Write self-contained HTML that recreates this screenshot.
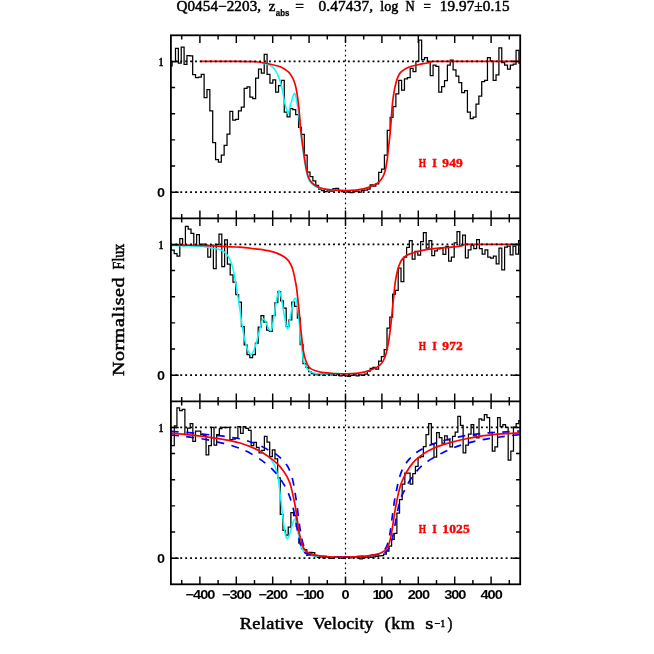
<!DOCTYPE html>
<html><head><meta charset="utf-8"><title>Q0454-2203</title>
<style>html,body{margin:0;padding:0;background:#fff}svg{display:block;will-change:transform}</style></head>
<body>
<svg width="654" height="654" viewBox="0 0 654 654">
<rect width="654" height="654" fill="#fff"/>
<g stroke="#000" stroke-width="1.25" fill="none" stroke-linejoin="miter">
<path d="M171.00 65.80V65.80H172.10V61.60H175.50V48.30H178.36V63.00H181.22V47.10H184.09V64.30H186.95V55.70H189.81V55.90H192.67V74.60H195.53V77.70H198.40V77.10H201.26V74.30H204.12V97.60H206.98V89.60H209.84V110.80H212.71V142.60H215.57V159.50H218.43V162.20H221.29V155.20H224.15V145.30H227.02V134.00H229.88V111.40H232.74V120.00H235.60V119.40H238.46V110.80H241.33V107.10H244.19V88.30H247.05V86.90H249.91V97.20H252.77V98.70H255.64V78.20H258.50V69.10H261.36V73.00H264.22V54.40H267.08V74.25H269.95V83.10H272.81V79.75H275.67V92.00H278.53V85.50H281.39V80.40H284.26V112.20H287.12V116.80H289.98V108.50H292.84V109.70H295.70V114.60H298.57V127.30H301.43V134.40H304.29V155.10H307.15V172.00H310.01V176.50H312.88V180.80H315.74V185.40H318.60V189.10H321.46V190.50H324.32V191.50H327.19V190.00H330.05V191.00H332.91V188.50H335.77V188.30H338.63V190.50H341.50V191.50H344.36V192.00H347.22V191.00H350.08V192.50H352.94V191.50H355.81V191.00H358.67V192.00H361.53V190.50H364.39V190.00H367.25V189.00H370.12V184.80H372.98V186.00H375.84V183.90H378.70V172.40H381.56V169.20H384.43V155.10H387.29V130.40H390.15V117.30H393.01V106.70H395.87V93.80H398.74V80.40H401.60V90.20H404.46V78.90H407.32V77.70H410.18V68.40H413.05V71.60H415.91V61.40H418.77V40.00H421.63V59.60H424.49V57.50H427.36V61.40H430.22V75.50H433.08V65.10H435.94V66.30H438.80V92.00H441.67V86.50H444.53V80.60H447.39V65.00H450.25V60.10H453.11V69.90H455.98V76.00H458.84V82.70H461.70V92.50H464.56V90.70H467.42V112.10H470.29V118.60H473.15V117.00H476.01V104.10H478.87V96.20H481.73V81.50H484.60V80.30H487.46V57.60H490.32V61.20H493.18V80.30H496.04V74.80H498.91V47.80H501.77V62.50H504.63V65.00H507.49V69.00H510.35V65.00H513.22V64.10H516.08V50.30H518.94V63.10H520.20"/>
<path d="M171.00 244.40V250.00V250.00H174.20V253.50H177.00V256.00H179.80V238.50H182.60V245.60H185.40V226.30H188.20V229.10H191.00V233.30H193.80V245.00H196.60V234.60H199.40V245.00H202.20V244.10H205.00V245.00H207.80V257.20H210.60V245.00H213.40V268.50H216.20V244.40H219.00V234.00H221.80V266.60H224.60V239.80H227.40V264.20H230.20V274.90H233.00V282.00H235.80V294.70H238.60V302.00H241.40V326.50H244.20V344.80H247.00V354.60H249.80V357.70H252.60V354.60H255.40V343.00H258.20V327.10H261.00V315.50H263.80V322.20H266.60V330.20H269.40V331.40H272.20V315.50H275.00V302.60H277.80V291.60H280.60V300.80H283.40V308.10H286.20V326.50H289.00V319.80H291.80V302.00H294.60V306.30H297.40V318.00H300.20V344.50H303.00V363.70H305.80V367.40H308.60V371.70H311.40V373.50H314.20V373.90H317.00V374.90H319.80V374.20H322.60V375.40H325.40V374.40H328.20V373.90H331.00V374.90H333.80V375.40H336.60V374.40H339.40V375.90H342.20V374.90H345.00V375.90H347.80V376.40H350.60V375.40H353.40V374.90H356.20V375.90H359.00V374.90H361.80V375.40H364.60V374.10H367.40V371.00H370.20V368.40H373.00V367.40H375.80V369.20H378.60V361.00H381.40V356.60H384.20V349.60H387.00V328.20H389.80V317.20H392.60V294.10H395.40V290.40H398.20V268.10H401.00V281.50H403.80V257.00H406.60V247.30H409.40V240.50H412.20V259.00H415.00V251.30H417.80V255.00H420.60V241.50H423.40V232.60H426.20V248.20H429.00V240.50H431.80V255.60H434.60V250.90H437.40V248.90H440.20V248.20H443.00V254.40H445.80V246.40H448.60V261.00H451.40V257.10H454.20V242.90H457.00V231.50H459.80V245.60H462.60V235.20H465.40V257.80H468.20V249.90H471.00V245.00H473.80V248.60H476.60V239.50H479.40V248.60H482.20V254.10H485.00V249.90H487.80V257.20H490.60V258.00H493.40V256.00H496.20V263.90H499.00V248.00H501.80V269.80H504.60V247.00H507.40V246.20H510.20V254.80H513.00V246.20H515.80V254.10H518.60V240.70H520.20"/>
<path d="M171.00 426.00V445.70V445.70H174.28V425.90H176.93V407.80H179.58V410.60H182.23V409.25H184.88V434.70H187.53V428.00H190.18V423.70H192.83V441.40H195.48V431.00H198.13V431.00H200.78V434.70H203.43V435.30H206.08V454.90H208.73V445.70H211.38V427.40H214.03V445.10H216.68V434.70H219.33V428.60H221.98V427.40H224.63V427.70H227.28V427.40H229.93V439.60H232.58V439.00H235.23V438.00H237.88V426.60H240.53V433.30H243.18V426.50H245.83V428.40H248.48V430.30H251.13V445.50H253.78V442.40H256.43V447.30H259.08V452.80H261.73V450.40H264.38V436.30H267.03V442.00H269.68V456.50H272.33V449.80H274.98V458.90H277.63V477.90H280.28V514.40H282.93V530.30H285.58V535.20H288.23V527.20H290.88V512.50H293.53V515.60H296.18V526.60H298.83V543.10H301.48V548.60H304.13V549.60H306.78V555.30H309.43V552.30H312.08V552.50H314.73V556.30H317.38V557.30H320.03V556.80H322.68V557.80H325.33V556.80H327.98V557.30H330.63V558.30H333.28V557.30H335.93V556.80H338.58V557.80H341.23V558.30H343.88V557.30H346.53V556.80H349.18V557.80H351.83V557.30H354.48V556.80H357.13V557.80H359.78V558.80H362.43V557.80H365.08V557.30H367.73V556.80H370.38V557.30H373.03V556.80H375.68V556.30H378.33V555.80H380.98V555.70H383.63V554.10H386.28V551.00H388.93V546.20H391.58V539.40H394.23V533.30H396.88V513.10H399.53V499.70H402.18V484.00H404.83V473.00H407.48V473.00H410.13V484.00H412.78V473.60H415.43V466.30H418.08V457.70H420.73V456.50H423.38V446.70H426.03V434.50H428.68V423.50H431.33V443.60H433.98V457.10H436.63V432.60H439.28V437.50H441.93V443.00H444.58V435.90H447.23V439.80H449.88V446.80H452.53V436.40H455.18V432.10H457.83V416.40H460.48V425.40H463.13V452.90H465.78V445.10H468.43V434.10H471.08V424.70H473.73V435.90H476.38V437.80H479.03V418.80H481.68V420.00H484.33V414.50H486.98V417.60H489.63V432.25H492.28V451.20H494.93V446.90H497.58V417.60H500.23V426.70H502.88V424.70H505.53V427.40H508.18V460.10H510.83V451.20H513.48V427.10H516.13V423.70H518.78V420.60H520.20"/>
</g>
<g stroke="#00ffff" stroke-width="1.5" fill="none" stroke-linejoin="round">
<path d="M262.00 62.90C262.83 63.12 265.37 63.63 267.00 64.20C268.63 64.77 270.38 65.23 271.80 66.30C273.22 67.37 274.28 68.67 275.50 70.60C276.72 72.53 277.98 74.85 279.10 77.90C280.22 80.95 281.28 84.82 282.20 88.90C283.12 92.98 283.78 98.73 284.60 102.40C285.42 106.07 286.48 109.07 287.10 110.90C287.72 112.73 287.78 114.22 288.30 113.40C288.82 112.58 289.48 108.65 290.20 106.00C290.92 103.35 291.90 99.63 292.60 97.50C293.30 95.37 293.88 93.40 294.40 93.20C294.92 93.00 295.18 94.17 295.70 96.30C296.22 98.43 296.93 102.55 297.50 106.00C298.07 109.45 298.63 113.03 299.10 117.00C299.57 120.97 299.80 125.22 300.30 129.80C300.80 134.38 301.48 139.82 302.10 144.50C302.72 149.18 303.38 153.83 304.00 157.90C304.62 161.97 305.20 165.75 305.80 168.90C306.40 172.05 306.88 174.63 307.60 176.80C308.32 178.97 309.07 180.45 310.10 181.90C311.13 183.35 312.30 184.48 313.80 185.50C315.30 186.52 316.98 187.32 319.10 188.00C321.22 188.68 323.85 189.23 326.50 189.60C329.15 189.97 333.58 190.10 335.00 190.20"/>
<path d="M171.00 245.50C174.17 245.57 185.17 245.77 190.00 245.90C194.83 246.03 197.33 246.12 200.00 246.30C202.67 246.48 203.87 246.68 206.00 247.00C208.13 247.32 210.65 247.82 212.80 248.20C214.95 248.58 217.07 248.72 218.90 249.30C220.73 249.88 222.37 250.68 223.80 251.70C225.23 252.72 226.27 253.57 227.50 255.40C228.73 257.23 230.18 260.05 231.20 262.70C232.22 265.35 232.83 267.92 233.60 271.30C234.37 274.68 235.15 279.22 235.80 283.00C236.45 286.78 236.85 289.82 237.50 294.00C238.15 298.18 238.93 302.88 239.70 308.10C240.47 313.32 241.28 320.20 242.10 325.30C242.92 330.40 243.78 334.83 244.60 338.70C245.42 342.57 246.18 346.05 247.00 348.50C247.82 350.95 248.85 352.38 249.50 353.40C250.15 354.42 250.40 354.60 250.90 354.60C251.40 354.60 251.82 354.62 252.50 353.40C253.18 352.18 254.18 349.75 255.00 347.30C255.82 344.85 256.58 341.77 257.40 338.70C258.22 335.63 259.18 331.75 259.90 328.90C260.62 326.05 261.10 323.23 261.70 321.60C262.30 319.97 262.88 319.20 263.50 319.10C264.12 319.00 264.78 319.87 265.40 321.00C266.02 322.13 266.60 324.48 267.20 325.90C267.80 327.32 268.38 328.68 269.00 329.50C269.62 330.32 270.38 331.10 270.90 330.80C271.42 330.50 271.60 330.05 272.10 327.70C272.60 325.35 273.28 320.57 273.90 316.70C274.52 312.83 275.18 308.17 275.80 304.50C276.42 300.83 277.05 297.05 277.60 294.70C278.15 292.35 278.58 290.40 279.10 290.40C279.62 290.40 280.13 292.35 280.70 294.70C281.27 297.05 281.90 301.03 282.50 304.50C283.10 307.97 283.68 312.03 284.30 315.50C284.92 318.97 285.68 323.07 286.20 325.30C286.72 327.53 287.00 328.70 287.40 328.90C287.80 329.10 288.10 328.53 288.60 326.50C289.10 324.47 289.78 320.17 290.40 316.70C291.02 313.23 291.75 308.45 292.30 305.70C292.85 302.95 293.20 301.43 293.70 300.20C294.20 298.97 294.82 298.20 295.30 298.30C295.78 298.40 296.18 298.95 296.60 300.80C297.02 302.65 297.30 305.12 297.80 309.40C298.30 313.68 299.02 320.80 299.60 326.50C300.18 332.20 300.75 338.45 301.30 343.60C301.85 348.75 302.35 354.05 302.90 357.40C303.45 360.75 303.72 361.63 304.60 363.70C305.48 365.77 306.78 368.27 308.20 369.80C309.62 371.33 310.85 372.18 313.10 372.90C315.35 373.62 317.22 374.02 321.70 374.10C326.18 374.18 336.95 373.52 340.00 373.40"/>
<path d="M247.20 445.50C249.25 446.42 256.43 449.48 259.50 451.00C262.57 452.52 263.77 453.28 265.60 454.60C267.43 455.92 269.08 457.27 270.50 458.90C271.92 460.53 273.08 462.35 274.10 464.40C275.12 466.45 275.88 468.65 276.60 471.20C277.32 473.75 277.95 477.07 278.40 479.70C278.85 482.33 279.05 484.95 279.30 487.00C279.55 489.05 279.57 489.28 279.90 492.00C280.23 494.72 280.77 498.75 281.30 503.30C281.83 507.85 282.48 514.40 283.10 519.30C283.72 524.20 284.42 529.55 285.00 532.70C285.58 535.85 286.00 537.48 286.60 538.20C287.20 538.92 287.85 538.53 288.60 537.00C289.35 535.47 290.28 531.65 291.10 529.00C291.92 526.35 292.88 522.72 293.50 521.10C294.12 519.48 294.38 519.20 294.80 519.30C295.22 519.40 295.50 519.67 296.00 521.70C296.50 523.73 297.20 528.23 297.80 531.50C298.40 534.77 298.88 538.45 299.60 541.30C300.32 544.15 301.17 546.67 302.10 548.60C303.03 550.53 303.88 551.78 305.20 552.90C306.52 554.02 307.77 554.75 310.00 555.30C312.23 555.85 315.60 555.98 318.60 556.20C321.60 556.42 326.43 556.53 328.00 556.60"/>
</g>
<g stroke="#0000ff" stroke-width="1.7" fill="none" stroke-dasharray="7.5 7.4">
<path d="M171.00 431.30C174.92 431.60 188.55 432.57 194.50 433.10C200.45 433.63 202.63 434.07 206.70 434.50C210.77 434.93 214.82 435.22 218.90 435.70C222.98 436.18 227.53 436.85 231.20 437.40C234.87 437.95 237.77 438.28 240.90 439.00C244.03 439.72 246.90 440.62 250.00 441.70C253.10 442.78 256.28 444.05 259.50 445.50C262.72 446.95 266.45 448.88 269.30 450.40C272.15 451.92 274.37 452.97 276.60 454.60C278.83 456.23 280.87 458.25 282.70 460.20C284.53 462.15 286.17 463.87 287.60 466.30C289.03 468.73 290.28 471.75 291.30 474.80C292.32 477.85 293.02 481.27 293.70 484.60C294.38 487.93 294.82 491.07 295.40 494.80C295.98 498.53 296.60 502.52 297.20 507.00C297.80 511.48 298.38 517.22 299.00 521.70C299.62 526.18 300.28 530.43 300.90 533.90C301.52 537.37 301.98 539.95 302.70 542.50C303.42 545.05 304.18 547.47 305.20 549.20C306.22 550.93 307.33 551.93 308.80 552.90C310.27 553.87 310.73 554.35 314.00 555.00C317.27 555.65 323.23 556.45 328.40 556.80C333.57 557.15 342.23 557.05 345.00 557.10" stroke-dasharray="7.8 7.55"/>
<path d="M519.60 431.00C517.37 431.15 510.48 431.65 506.20 431.90C501.92 432.15 497.98 432.23 493.90 432.50C489.82 432.77 486.52 432.97 481.70 433.50C476.88 434.03 470.10 434.83 465.00 435.70C459.90 436.57 455.67 437.58 451.10 438.70C446.53 439.82 441.68 441.07 437.60 442.40C433.52 443.73 430.07 445.07 426.60 446.70C423.13 448.33 419.65 450.17 416.80 452.20C413.95 454.23 411.75 456.35 409.50 458.90C407.25 461.45 405.03 464.23 403.30 467.50C401.57 470.77 400.10 475.33 399.10 478.50C398.10 481.67 397.85 483.98 397.30 486.50C396.75 489.02 396.37 490.58 395.80 493.60C395.23 496.62 394.52 500.53 393.90 504.60C393.28 508.67 392.70 513.52 392.10 518.00C391.50 522.48 390.92 527.62 390.30 531.50C389.68 535.38 389.22 538.45 388.40 541.30C387.58 544.15 386.72 546.57 385.40 548.60C384.08 550.63 382.73 552.40 380.50 553.50C378.27 554.60 374.87 554.72 372.00 555.20C369.13 555.68 367.80 556.08 363.30 556.40C358.80 556.72 348.05 556.98 345.00 557.10" stroke-dashoffset="5.1"/>
<path d="M171.00 435.00C172.87 435.20 178.28 435.73 182.20 436.20C186.12 436.67 190.42 437.23 194.50 437.80C198.58 438.37 202.63 438.85 206.70 439.60C210.77 440.35 214.82 441.32 218.90 442.30C222.98 443.28 227.53 444.42 231.20 445.50C234.87 446.58 238.23 447.78 240.90 448.80C243.57 449.82 244.10 449.92 247.20 451.60C250.30 453.28 256.23 456.77 259.50 458.90C262.77 461.03 264.57 462.57 266.80 464.40C269.03 466.23 271.07 468.07 272.90 469.90C274.73 471.73 276.27 473.45 277.80 475.40C279.33 477.35 280.93 479.83 282.10 481.60C283.27 483.37 283.82 484.22 284.80 486.00C285.78 487.78 286.95 489.82 288.00 492.30C289.05 494.78 290.18 498.03 291.10 500.90C292.02 503.77 292.68 506.03 293.50 509.50C294.32 512.97 295.28 517.83 296.00 521.70C296.72 525.57 297.20 529.43 297.80 532.70C298.40 535.97 298.88 538.65 299.60 541.30C300.32 543.95 301.17 546.67 302.10 548.60C303.03 550.53 303.72 551.83 305.20 552.90C306.68 553.97 307.13 554.35 311.00 555.00C314.87 555.65 322.73 556.45 328.40 556.80C334.07 557.15 342.23 557.05 345.00 557.10" stroke-dasharray="7.8 7.55"/>
<path d="M519.60 434.70C517.37 434.95 510.48 435.68 506.20 436.20C501.92 436.72 497.98 437.20 493.90 437.80C489.82 438.40 485.77 439.00 481.70 439.80C477.63 440.60 472.97 441.72 469.50 442.60C466.03 443.48 463.77 444.15 460.90 445.10C458.03 446.05 455.57 446.92 452.30 448.30C449.03 449.68 444.77 451.63 441.30 453.40C437.83 455.17 434.57 456.97 431.50 458.90C428.43 460.83 425.55 462.75 422.90 465.00C420.25 467.25 417.83 469.73 415.60 472.40C413.37 475.07 411.22 478.23 409.50 481.00C407.78 483.77 406.67 486.30 405.30 489.00C403.93 491.70 402.48 494.00 401.30 497.20C400.12 500.40 399.12 504.32 398.20 508.20C397.28 512.08 396.62 516.22 395.80 520.50C394.98 524.78 394.12 530.03 393.30 533.90C392.48 537.77 391.82 541.05 390.90 543.70C389.98 546.35 389.13 548.07 387.80 549.80C386.47 551.53 385.03 553.23 382.90 554.10C380.77 554.97 378.27 554.62 375.00 555.00C371.73 555.38 368.30 556.05 363.30 556.40C358.30 556.75 348.05 556.98 345.00 557.10" stroke-dashoffset="0"/>
</g>
<g stroke="#ff0000" stroke-width="1.7" fill="none" stroke-linejoin="round">
<path d="M199.60 61.45C204.67 61.45 221.02 61.41 230.00 61.45C238.98 61.49 247.75 61.44 253.50 61.70C259.25 61.96 260.63 62.33 264.50 63.00C268.37 63.67 273.65 64.88 276.70 65.70C279.75 66.52 280.77 66.78 282.80 67.90C284.83 69.02 287.27 70.73 288.90 72.40C290.53 74.07 291.58 75.97 292.60 77.90C293.62 79.83 294.28 81.55 295.00 84.00C295.72 86.45 296.28 88.93 296.90 92.60C297.52 96.27 298.22 101.77 298.70 106.00C299.18 110.23 299.45 114.03 299.80 118.00C300.15 121.97 300.33 125.38 300.80 129.80C301.27 134.22 301.98 139.82 302.60 144.50C303.22 149.18 303.88 153.83 304.50 157.90C305.12 161.97 305.70 165.83 306.30 168.90C306.90 171.97 307.38 174.25 308.10 176.30C308.82 178.35 309.57 179.78 310.60 181.20C311.63 182.62 312.88 183.75 314.30 184.80C315.72 185.85 317.07 186.73 319.10 187.50C321.13 188.27 323.85 188.97 326.50 189.40C329.15 189.83 331.83 189.92 335.00 190.10C338.17 190.28 342.00 190.50 345.50 190.50C349.00 190.50 352.83 190.42 356.00 190.10C359.17 189.78 361.67 189.38 364.50 188.60C367.33 187.82 370.57 186.53 373.00 185.40C375.43 184.27 377.47 183.22 379.10 181.80C380.73 180.38 381.77 178.83 382.80 176.90C383.83 174.97 384.58 172.95 385.30 170.20C386.02 167.45 386.50 164.68 387.10 160.40C387.70 156.12 388.38 149.20 388.90 144.50C389.42 139.80 389.82 136.28 390.20 132.20C390.58 128.12 390.90 123.95 391.20 120.00C391.50 116.05 391.67 112.25 392.00 108.50C392.33 104.75 392.68 101.17 393.20 97.50C393.72 93.83 394.38 89.77 395.10 86.50C395.82 83.23 396.58 80.25 397.50 77.90C398.42 75.55 399.27 73.93 400.60 72.40C401.93 70.87 403.67 69.72 405.50 68.70C407.33 67.68 409.37 67.00 411.60 66.30C413.83 65.60 416.25 65.05 418.90 64.50C421.55 63.95 425.45 63.45 427.50 63.00C429.55 62.55 429.78 62.06 431.20 61.80C432.62 61.54 427.87 61.51 436.00 61.45C444.13 61.39 466.00 61.45 480.00 61.45C494.00 61.45 513.33 61.45 520.00 61.45"/>
<path d="M171.00 245.00C174.17 245.03 184.05 245.10 190.00 245.20C195.95 245.30 199.83 245.33 206.70 245.60C213.57 245.87 225.65 246.53 231.20 246.80C236.75 247.07 236.50 246.92 240.00 247.20C243.50 247.48 248.12 248.02 252.20 248.50C256.28 248.98 261.03 249.53 264.50 250.10C267.97 250.67 270.57 251.23 273.00 251.90C275.43 252.57 277.27 253.28 279.10 254.10C280.93 254.92 282.57 255.83 284.00 256.80C285.43 257.77 286.67 258.78 287.70 259.90C288.73 261.02 289.38 261.98 290.20 263.50C291.02 265.02 291.90 266.85 292.60 269.00C293.30 271.15 293.78 273.53 294.40 276.40C295.02 279.27 295.78 282.93 296.30 286.20C296.82 289.47 297.13 292.87 297.50 296.00C297.87 299.13 298.13 301.47 298.50 305.00C298.87 308.53 299.20 312.10 299.70 317.20C300.20 322.30 300.90 330.08 301.50 335.60C302.10 341.12 302.68 346.43 303.30 350.30C303.92 354.17 304.48 356.37 305.20 358.80C305.92 361.23 306.68 363.27 307.60 364.90C308.52 366.53 309.37 367.62 310.70 368.60C312.03 369.58 313.77 370.17 315.60 370.80C317.43 371.43 318.65 371.95 321.70 372.40C324.75 372.85 329.82 373.27 333.90 373.50C337.98 373.73 342.12 373.87 346.20 373.80C350.28 373.73 354.93 373.50 358.40 373.10C361.87 372.70 364.33 372.15 367.00 371.40C369.67 370.65 372.35 369.57 374.40 368.60C376.45 367.63 377.88 366.82 379.30 365.60C380.72 364.38 381.78 363.25 382.90 361.30C384.02 359.35 385.08 356.97 386.00 353.90C386.92 350.83 387.68 346.97 388.40 342.90C389.12 338.83 389.73 333.98 390.30 329.50C390.87 325.02 391.38 320.08 391.80 316.00C392.22 311.92 392.47 308.33 392.80 305.00C393.13 301.67 393.40 299.75 393.80 296.00C394.20 292.25 394.57 286.78 395.20 282.50C395.83 278.22 396.68 273.77 397.60 270.30C398.52 266.83 399.57 263.92 400.70 261.70C401.83 259.48 402.97 258.27 404.40 257.00C405.83 255.73 407.27 254.98 409.30 254.10C411.33 253.22 413.75 252.43 416.60 251.70C419.45 250.97 422.73 250.28 426.40 249.70C430.07 249.12 434.67 248.60 438.60 248.20C442.53 247.80 446.48 247.63 450.00 247.30C453.52 246.97 457.37 246.65 459.70 246.20C462.03 245.75 462.62 244.90 464.00 244.60C465.38 244.30 462.83 244.43 468.00 244.40C473.17 244.37 486.33 244.40 495.00 244.40C503.67 244.40 515.83 244.40 520.00 244.40"/>
<path d="M171.00 433.20C172.87 433.35 178.28 433.75 182.20 434.10C186.12 434.45 190.42 434.83 194.50 435.30C198.58 435.77 202.63 436.35 206.70 436.90C210.77 437.45 214.82 437.95 218.90 438.60C222.98 439.25 227.53 440.03 231.20 440.80C234.87 441.57 237.77 442.25 240.90 443.20C244.03 444.15 246.90 445.22 250.00 446.50C253.10 447.78 256.28 449.13 259.50 450.90C262.72 452.67 266.45 455.05 269.30 457.10C272.15 459.15 274.37 461.07 276.60 463.20C278.83 465.33 280.97 467.65 282.70 469.90C284.43 472.15 285.78 474.45 287.00 476.70C288.22 478.95 289.27 481.43 290.00 483.40C290.73 485.37 290.92 486.60 291.40 488.50C291.88 490.40 292.23 491.72 292.90 494.80C293.57 497.88 294.68 502.92 295.40 507.00C296.12 511.08 296.60 515.22 297.20 519.30C297.80 523.38 298.38 528.05 299.00 531.50C299.62 534.95 300.18 537.35 300.90 540.00C301.62 542.65 302.38 545.45 303.30 547.40C304.22 549.35 305.07 550.58 306.40 551.70C307.73 552.82 309.27 553.43 311.30 554.10C313.33 554.77 315.75 555.25 318.60 555.70C321.45 556.15 324.00 556.57 328.40 556.80C332.80 557.03 339.18 557.17 345.00 557.10C350.82 557.03 358.20 556.80 363.30 556.40C368.40 556.00 372.53 555.33 375.60 554.70C378.67 554.07 379.97 553.52 381.70 552.60C383.43 551.68 384.78 550.68 386.00 549.20C387.22 547.72 388.13 546.03 389.00 543.70C389.87 541.37 390.48 538.87 391.20 535.20C391.92 531.53 392.63 525.98 393.30 521.70C393.97 517.42 394.48 513.58 395.20 509.50C395.92 505.42 396.87 500.70 397.60 497.20C398.33 493.70 398.85 491.20 399.60 488.50C400.35 485.80 400.87 483.88 402.10 481.00C403.33 478.12 405.17 474.27 407.00 471.20C408.83 468.13 410.85 465.15 413.10 462.60C415.35 460.05 417.85 457.93 420.50 455.90C423.15 453.87 425.95 452.03 429.00 450.40C432.05 448.77 435.12 447.43 438.80 446.10C442.48 444.77 446.73 443.58 451.10 442.40C455.47 441.22 459.90 440.08 465.00 439.00C470.10 437.92 476.88 436.65 481.70 435.90C486.52 435.15 489.82 434.87 493.90 434.50C497.98 434.13 501.92 433.97 506.20 433.70C510.48 433.43 517.37 433.03 519.60 432.90"/>
</g>
<g stroke="#000" stroke-width="1.8" fill="none" stroke-dasharray="1.9 3.03">
<path d="M170.4 192.16H520.20"/>
<path d="M170.4 61.44H520.20"/>
<path d="M170.4 375.16H520.20"/>
<path d="M170.4 244.44H520.20"/>
<path d="M170.4 558.16H520.20"/>
<path d="M170.4 427.44H520.20"/>
<path d="M345.50 34.95V584.30" stroke-width="1.15" stroke-dasharray="1.8 3.13"/>
</g>
<g stroke="#000" stroke-width="1.8" fill="none" stroke-linecap="butt">
<rect x="170.90" y="35.30" width="349.30" height="549.00"/>
<path d="M170.90 218.30H520.20"/>
<path d="M170.90 401.30H520.20"/>
<path d="M181.70 35.30v4.20M181.70 584.30v-4.20M181.70 214.10v8.40M181.70 397.10v8.40M199.90 35.30v7.80M199.90 584.30v-7.80M199.90 210.50v15.60M199.90 393.50v15.60M218.10 35.30v4.20M218.10 584.30v-4.20M218.10 214.10v8.40M218.10 397.10v8.40M236.30 35.30v7.80M236.30 584.30v-7.80M236.30 210.50v15.60M236.30 393.50v15.60M254.50 35.30v4.20M254.50 584.30v-4.20M254.50 214.10v8.40M254.50 397.10v8.40M272.70 35.30v7.80M272.70 584.30v-7.80M272.70 210.50v15.60M272.70 393.50v15.60M290.90 35.30v4.20M290.90 584.30v-4.20M290.90 214.10v8.40M290.90 397.10v8.40M309.10 35.30v7.80M309.10 584.30v-7.80M309.10 210.50v15.60M309.10 393.50v15.60M327.30 35.30v4.20M327.30 584.30v-4.20M327.30 214.10v8.40M327.30 397.10v8.40M345.50 35.30v7.80M345.50 584.30v-7.80M345.50 210.50v15.60M345.50 393.50v15.60M363.70 35.30v4.20M363.70 584.30v-4.20M363.70 214.10v8.40M363.70 397.10v8.40M381.90 35.30v7.80M381.90 584.30v-7.80M381.90 210.50v15.60M381.90 393.50v15.60M400.10 35.30v4.20M400.10 584.30v-4.20M400.10 214.10v8.40M400.10 397.10v8.40M418.30 35.30v7.80M418.30 584.30v-7.80M418.30 210.50v15.60M418.30 393.50v15.60M436.50 35.30v4.20M436.50 584.30v-4.20M436.50 214.10v8.40M436.50 397.10v8.40M454.70 35.30v7.80M454.70 584.30v-7.80M454.70 210.50v15.60M454.70 393.50v15.60M472.90 35.30v4.20M472.90 584.30v-4.20M472.90 214.10v8.40M472.90 397.10v8.40M491.10 35.30v7.80M491.10 584.30v-7.80M491.10 210.50v15.60M491.10 393.50v15.60M509.30 35.30v4.20M509.30 584.30v-4.20M509.30 214.10v8.40M509.30 397.10v8.40M170.90 192.16h7.80M520.20 192.16h-7.80M170.90 166.01h4.20M520.20 166.01h-4.20M170.90 139.87h4.20M520.20 139.87h-4.20M170.90 113.73h4.20M520.20 113.73h-4.20M170.90 87.59h4.20M520.20 87.59h-4.20M170.90 61.44h7.80M520.20 61.44h-7.80M170.90 375.16h7.80M520.20 375.16h-7.80M170.90 349.01h4.20M520.20 349.01h-4.20M170.90 322.87h4.20M520.20 322.87h-4.20M170.90 296.73h4.20M520.20 296.73h-4.20M170.90 270.59h4.20M520.20 270.59h-4.20M170.90 244.44h7.80M520.20 244.44h-7.80M170.90 558.16h7.80M520.20 558.16h-7.80M170.90 532.01h4.20M520.20 532.01h-4.20M170.90 505.87h4.20M520.20 505.87h-4.20M170.90 479.73h4.20M520.20 479.73h-4.20M170.90 453.59h4.20M520.20 453.59h-4.20M170.90 427.44h7.80M520.20 427.44h-7.80" stroke-width="1.45"/>
</g>
<text transform="translate(199.95,598.6) scale(1.16,1)" text-anchor="middle" font-family="Liberation Sans, sans-serif" font-weight="bold" font-size="12.6" letter-spacing="-0.9">−400</text>
<text transform="translate(236.35,598.6) scale(1.16,1)" text-anchor="middle" font-family="Liberation Sans, sans-serif" font-weight="bold" font-size="12.6" letter-spacing="-0.9">−300</text>
<text transform="translate(272.75,598.6) scale(1.16,1)" text-anchor="middle" font-family="Liberation Sans, sans-serif" font-weight="bold" font-size="12.6" letter-spacing="-0.9">−200</text>
<text transform="translate(309.55,598.6) scale(1.16,1)" text-anchor="middle" font-family="Liberation Sans, sans-serif" font-weight="bold" font-size="12.6" letter-spacing="-0.9">−1<tspan dx="-1.1">0</tspan>0</text>
<text transform="translate(345.05,598.6) scale(1.16,1)" text-anchor="middle" font-family="Liberation Sans, sans-serif" font-weight="bold" font-size="12.6" letter-spacing="-0.9">0</text>
<text transform="translate(382.35,598.6) scale(1.16,1)" text-anchor="middle" font-family="Liberation Sans, sans-serif" font-weight="bold" font-size="12.6" letter-spacing="-0.9">1<tspan dx="-1.1">0</tspan>0</text>
<text transform="translate(418.35,598.6) scale(1.16,1)" text-anchor="middle" font-family="Liberation Sans, sans-serif" font-weight="bold" font-size="12.6" letter-spacing="-0.9">200</text>
<text transform="translate(454.75,598.6) scale(1.16,1)" text-anchor="middle" font-family="Liberation Sans, sans-serif" font-weight="bold" font-size="12.6" letter-spacing="-0.9">300</text>
<text transform="translate(491.15,598.6) scale(1.16,1)" text-anchor="middle" font-family="Liberation Sans, sans-serif" font-weight="bold" font-size="12.6" letter-spacing="-0.9">400</text>
<text transform="translate(165.1,196.71) scale(1.15,1)" text-anchor="end" font-family="Liberation Sans, sans-serif" font-weight="bold" font-size="12.6">0</text>
<text transform="translate(158.75,66.04) scale(0.68,1)" font-family="Liberation Serif, serif" font-weight="bold" font-size="13.5" stroke="#000" stroke-width="0.5">1</text>
<text transform="translate(165.1,379.71) scale(1.15,1)" text-anchor="end" font-family="Liberation Sans, sans-serif" font-weight="bold" font-size="12.6">0</text>
<text transform="translate(158.75,249.04) scale(0.68,1)" font-family="Liberation Serif, serif" font-weight="bold" font-size="13.5" stroke="#000" stroke-width="0.5">1</text>
<text transform="translate(165.1,562.71) scale(1.15,1)" text-anchor="end" font-family="Liberation Sans, sans-serif" font-weight="bold" font-size="12.6">0</text>
<text transform="translate(158.75,432.04) scale(0.68,1)" font-family="Liberation Serif, serif" font-weight="bold" font-size="13.5" stroke="#000" stroke-width="0.5">1</text>
<text transform="translate(239.80,628.60) scale(1.1255,1)" font-family="Liberation Serif, serif" font-weight="normal" font-size="16.3" letter-spacing="0.288" stroke="#000" stroke-width="0.5" >Relative</text>
<text transform="translate(313.00,628.60) scale(1.0854,1)" font-family="Liberation Serif, serif" font-weight="normal" font-size="16.3" letter-spacing="0.203" stroke="#000" stroke-width="0.5" >Velocity</text>
<text transform="translate(384.80,628.60) scale(1.1041,1)" font-family="Liberation Serif, serif" font-weight="normal" font-size="16.3" letter-spacing="0.412" stroke="#000" stroke-width="0.5" >(km</text>
<text transform="translate(425.20,628.60) scale(1.2770,1)" font-family="Liberation Serif, serif" font-weight="normal" font-size="16.3" letter-spacing="0.000" stroke="#000" stroke-width="0.5" >s</text>
<text transform="translate(434.70,626.60) scale(0.9488,1)" font-family="Liberation Serif, serif" font-weight="normal" font-size="10.5" letter-spacing="0.000" stroke="#000" stroke-width="0.5" >−1</text>
<text transform="translate(447.40,628.60) scale(0.9026,1)" font-family="Liberation Serif, serif" font-weight="normal" font-size="16.3" letter-spacing="0.000" stroke="#000" stroke-width="0.5" >)</text>
<g transform="translate(124.0,376) rotate(-90)">
<text transform="translate(0.00,0.00) scale(1.2224,1)" font-family="Liberation Serif, serif" font-weight="normal" font-size="16.3" letter-spacing="0.512" stroke="#000" stroke-width="0.5" >Normalised</text>
<text transform="translate(106.60,0.00) scale(0.8597,1)" font-family="Liberation Serif, serif" font-weight="normal" font-size="16.3" letter-spacing="0.000" stroke="#000" stroke-width="0.5" >Flux</text>
</g>
<text transform="translate(176.40,11.30) scale(1.0359,1)" font-family="Liberation Serif, serif" font-weight="normal" font-size="14.6" letter-spacing="0.093" stroke="#000" stroke-width="0.5" >Q0454−2203,</text>
<text transform="translate(268.80,11.30) scale(1.0185,1)" font-family="Liberation Serif, serif" font-weight="normal" font-size="14.6" letter-spacing="0.000" stroke="#000" stroke-width="0.5" >z</text>
<text x="275.8" y="15.5" font-family="Liberation Sans, sans-serif" font-weight="bold" font-size="8.3" textLength="13.5" lengthAdjust="spacingAndGlyphs" stroke="#000" stroke-width="0.25">abs</text>
<text transform="translate(295.30,11.30) scale(1.0566,1)" font-family="Liberation Serif, serif" font-weight="normal" font-size="14.6" letter-spacing="0.000" stroke="#000" stroke-width="0.5" >=</text>
<text transform="translate(318.50,11.30) scale(1.0514,1)" font-family="Liberation Serif, serif" font-weight="normal" font-size="14.6" letter-spacing="0.119" stroke="#000" stroke-width="0.5" >0.47437,</text>
<text transform="translate(380.20,11.30) scale(0.9702,1)" font-family="Liberation Serif, serif" font-weight="normal" font-size="14.6" letter-spacing="0.000" stroke="#000" stroke-width="0.5" >log</text>
<text transform="translate(405.50,11.30) scale(0.8725,1)" font-family="Liberation Serif, serif" font-weight="normal" font-size="14.6" letter-spacing="0.000" stroke="#000" stroke-width="0.5" >N</text>
<text transform="translate(423.40,11.30) scale(0.8987,1)" font-family="Liberation Serif, serif" font-weight="normal" font-size="14.6" letter-spacing="0.000" stroke="#000" stroke-width="0.5" >=</text>
<text transform="translate(439.70,11.30) scale(1.0405,1)" font-family="Liberation Serif, serif" font-weight="normal" font-size="14.6" letter-spacing="0.096" stroke="#000" stroke-width="0.5" >19.97±0.15</text>
<text transform="translate(418.70,166.80) scale(0.7219,1)" font-family="Liberation Serif, serif" font-weight="bold" font-size="13" letter-spacing="0.000"  stroke-width="0.45" fill="#ff0000" stroke="#ff0000">H</text>
<text transform="translate(432.30,166.80) scale(0.9093,1)" font-family="Liberation Serif, serif" font-weight="bold" font-size="13" letter-spacing="0.000"  stroke-width="0.45" fill="#ff0000" stroke="#ff0000">I</text>
<text transform="translate(442.30,166.80) scale(1.0346,1)" font-family="Liberation Serif, serif" font-weight="bold" font-size="13" letter-spacing="0.109"  stroke-width="0.45" fill="#ff0000" stroke="#ff0000">949</text>
<text transform="translate(418.70,349.80) scale(0.7219,1)" font-family="Liberation Serif, serif" font-weight="bold" font-size="13" letter-spacing="0.000"  stroke-width="0.45" fill="#ff0000" stroke="#ff0000">H</text>
<text transform="translate(432.30,349.80) scale(0.9093,1)" font-family="Liberation Serif, serif" font-weight="bold" font-size="13" letter-spacing="0.000"  stroke-width="0.45" fill="#ff0000" stroke="#ff0000">I</text>
<text transform="translate(442.30,349.80) scale(1.0346,1)" font-family="Liberation Serif, serif" font-weight="bold" font-size="13" letter-spacing="0.109"  stroke-width="0.45" fill="#ff0000" stroke="#ff0000">972</text>
<text transform="translate(418.70,532.80) scale(0.7219,1)" font-family="Liberation Serif, serif" font-weight="bold" font-size="13" letter-spacing="0.000"  stroke-width="0.45" fill="#ff0000" stroke="#ff0000">H</text>
<text transform="translate(432.30,532.80) scale(0.9093,1)" font-family="Liberation Serif, serif" font-weight="bold" font-size="13" letter-spacing="0.000"  stroke-width="0.45" fill="#ff0000" stroke="#ff0000">I</text>
<text transform="translate(442.30,532.80) scale(1.0404,1)" font-family="Liberation Serif, serif" font-weight="bold" font-size="13" letter-spacing="0.112"  stroke-width="0.45" fill="#ff0000" stroke="#ff0000">1025</text>
</svg>
</body></html>
